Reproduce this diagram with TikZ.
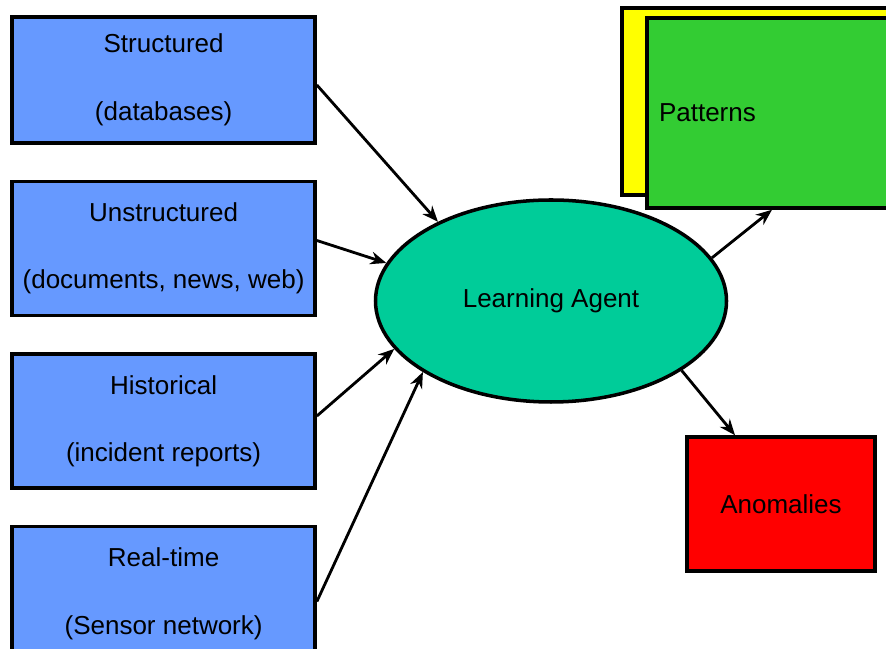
\documentclass[tikz,border=0pt]{standalone}
\usepackage{fontspec}
\setmainfont{Liberation Sans}
\usepackage{tikz}
\usetikzlibrary{positioning,arrows.meta,shapes.geometric}

\definecolor{srcblue}{HTML}{6699FF}
\definecolor{agentteal}{HTML}{00CC99}
\definecolor{patyellow}{HTML}{FFFF00}
\definecolor{patgreen}{HTML}{33CC33}
\definecolor{anored}{HTML}{FF0000}

\begin{document}
\begin{tikzpicture}[node distance=0.875cm,
    srcbox/.style={rectangle, draw=black, fill=srcblue, line width=2.5pt, minimum width=7.575cm, minimum height=3.35cm, align=center, font=\fontsize{18.5}{48}\selectfont},
    agentnode/.style={ellipse, draw=black, fill=agentteal, line width=2.5pt, minimum width=8.775cm, minimum height=5.05cm, font=\fontsize{18.5}{22}\selectfont},
    resultbox/.style={rectangle, draw=black, line width=2.5pt, font=\fontsize{18.5}{22}\selectfont},
    flow/.style={-{Stealth[length=4mm,width=3.2mm]}, line width=2pt}]
        \useasboundingbox (0,0) rectangle (22.15,16.2);
        % Nodes
        \node[srcbox, minimum height=3.15cm] (struct) at (4.09,14.2) {Structured\\(databases)};
        \node[srcbox] (unstruct) [below=of struct] {Unstructured\\(documents, news, web)};
        \node[srcbox] (hist) [below=of unstruct] {Historical\\(incident reports)};
        \node[srcbox] (realtime) [below=of hist] {Real-time\\(Sensor network)};
        \node[agentnode] (agent) at (13.775,8.675) {Learning Agent};
        \node[resultbox, fill=patyellow, minimum width=7cm, minimum height=4.675cm] (patback) at (19.05,13.66) {};
        \node[resultbox, fill=patgreen, minimum width=7cm, minimum height=4.75cm, text width=6.4cm, inner sep=0.3cm, align=left] (patterns) at (19.675,13.375) {Patterns};
        \node[resultbox, fill=anored, minimum width=4.7cm, minimum height=3.35cm] (anomalies) at (19.525,3.6) {Anomalies};

        % Edges
        \draw[flow] ([yshift=-0.125cm]struct.east) -- (agent.145);
        \draw[flow] ([yshift=0.2cm]unstruct.east) -- (agent.167);
        \draw[flow] ([yshift=0.125cm]hist.east) -- (agent.197);
        \draw[flow] ([yshift=-0.2cm]realtime.east) -- (agent.209);
        \draw[flow] (agent.15) -- ([xshift=-0.375cm]patterns.south);
        \draw[flow] (agent.332) -- ([xshift=-1.15cm]anomalies.north);
    \end{tikzpicture}
\end{document}
